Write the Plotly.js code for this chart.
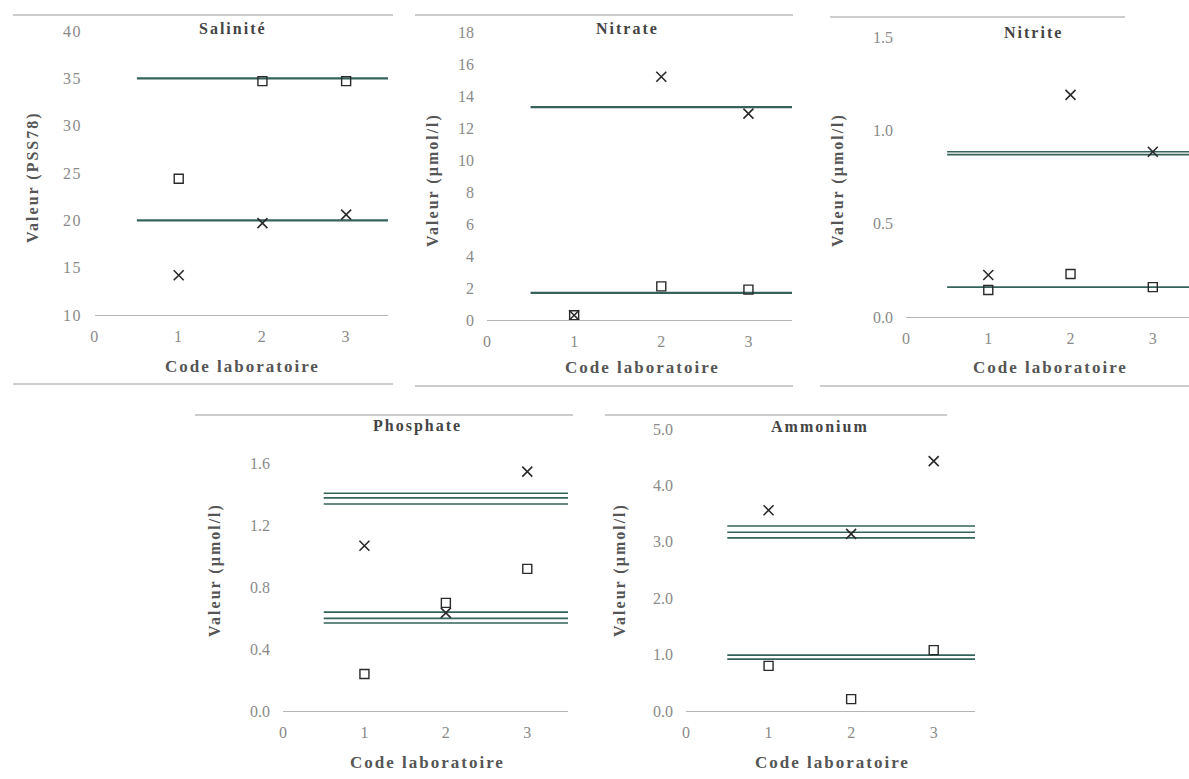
<!DOCTYPE html>
<html><head><meta charset="utf-8">
<script src="https://cdn.plot.ly/plotly-3.0.1.min.js"></script>
<style>html,body{margin:0;padding:0;background:#fff}#c{width:1189px;height:779px}
.xtick text,.ytick text{letter-spacing:1.5px;font-family:'Liberation Serif','DejaVu Serif',serif !important}
.annotation-text{letter-spacing:2px}
</style>
</head><body><div id="c"></div>
<script>
// ---- data ----
const labs = [1, 2, 3];
const panelTitles = ["Salinité", "Nitrate", "Nitrite", "Phosphate", "Ammonium"];
const yTitles = ["Valeur (PSS78)", "Valeur (µmol/l)", "Valeur (µmol/l)", "Valeur (µmol/l)", "Valeur (µmol/l)"];
const xTitle = "Code laboratoire";
const xTicks = [0, 1, 2, 3];

const salSquare = [24.4, 34.7, 34.7];
const salCross  = [14.2, 19.7, 20.6];
const salRef    = [35.0, 20.0];

const nitSquare = [0.3, 2.1, 1.9];
const nitCross  = [0.3, 15.2, 12.9];
const nitRef    = [13.3, 1.7];

const ntiSquare = [0.145, 0.23, 0.16];
const ntiCross  = [0.225, 1.19, 0.885];
const ntiRef    = [0.885, 0.87, 0.16];

const phoSquare = [0.24, 0.70, 0.92];
const phoCross  = [1.07, 0.635, 1.55];
const phoRef    = [1.41, 1.38, 1.34, 0.64, 0.60, 0.57];

const ammSquare = [0.80, 0.21, 1.08];
const ammCross  = [3.56, 3.14, 4.43];
const ammRef    = [3.28, 3.17, 3.07, 0.99, 0.92];

const refSpan = [0.5, 3.5];

const yTickVals = [
  [10, 15, 20, 25, 30, 35, 40],
  [0, 2, 4, 6, 8, 10, 12, 14, 16, 18],
  [0, 0.5, 1.0, 1.5],
  [0, 0.4, 0.8, 1.2, 1.6],
  [0, 1, 2, 3, 4, 5]
];
const yRanges = [[10, 40], [0, 18], [0, 1.5], [0, 1.8], [0, 5]];
const yFormats = ["d", "d", ".1f", ".1f", ".1f"];

// ---- layout geometry (pixels) ----
const W = 1189, H = 779;
const panels = [
  {x0: 95,  x1: 388,  xr: [0, 3.5],  yb: 315, yt: 31},
  {x0: 487, x1: 792,  xr: [0, 3.5],  yb: 320, yt: 32},
  {x0: 906, x1: 1189, xr: [0, 3.44], yb: 317, yt: 37},
  {x0: 283, x1: 568,  xr: [0, 3.5],  yb: 711, yt: 433},
  {x0: 686, x1: 975,  xr: [0, 3.5],  yb: 711, yt: 429}
];
const titlePos = [[233, 28], [627, 28], [1033, 33], [417, 426], [820, 426]];
const xTitlePos = [[242, 366], [642, 367], [1050, 367], [427, 762], [832, 762]];
const yTitlePos = [[33, 177], [433, 180], [838, 180], [215, 570], [620, 570]];

const squares = [salSquare, nitSquare, ntiSquare, phoSquare, ammSquare];
const crosses = [salCross, nitCross, ntiCross, phoCross, ammCross];
const refs = [salRef, nitRef, ntiRef, phoRef, ammRef];

const lineColor = "#35625a";
const markColor = "#2a2a2a";
const serif = "Liberation Serif";

const traces = [];
const layout = {
  width: W, height: H, margin: {l: 0, r: 0, t: 0, b: 0},
  font: {family: serif, size: 16, color: "#555"},
  paper_bgcolor: "#fff", plot_bgcolor: "rgba(0,0,0,0)",
  showlegend: false, annotations: [], shapes: []
};

panels.forEach((p, i) => {
  const n = i === 0 ? "" : String(i + 1);
  const xa = "x" + n, ya = "y" + n;
  const multi = refs[i].length > 2;
  refs[i].forEach(v => {
    traces.push({x: refSpan, y: [v, v], mode: "lines", xaxis: xa, yaxis: ya,
      line: {color: lineColor, width: multi ? 1.6 : 2.2}, hoverinfo: "skip"});
  });
  traces.push({x: labs, y: squares[i], mode: "markers", xaxis: xa, yaxis: ya,
    marker: {symbol: "square-open", size: 9, color: markColor, line: {width: 1.4, color: markColor}}});
  traces.push({x: labs, y: crosses[i], mode: "markers", xaxis: xa, yaxis: ya,
    marker: {symbol: "x-thin-open", size: 10, color: markColor, line: {width: 1.6, color: markColor}}});

  layout["xaxis" + n] = {
    domain: [p.x0 / W, p.x1 / W], range: p.xr, anchor: ya,
    tickvals: xTicks, ticktext: xTicks.map(String), showgrid: false, zeroline: false,
    showline: true, linecolor: "#b5b5b5", linewidth: 1, ticks: "", ticklabelstandoff: 7,
    tickfont: {family: serif, size: 16, color: "#8a8a8a"}, fixedrange: true
  };
  layout["yaxis" + n] = {
    domain: [1 - p.yb / H, 1 - p.yt / H], range: yRanges[i], anchor: xa,
    tickvals: yTickVals[i], tickformat: yFormats[i], showgrid: false, zeroline: false,
    showline: false, ticks: "", ticklabelstandoff: 12,
    tickfont: {family: serif, size: 16, color: "#8a8a8a"}, fixedrange: true
  };
  layout.annotations.push({text: "<b>" + panelTitles[i] + "</b>", xref: "paper", yref: "paper",
    x: titlePos[i][0] / W, y: 1 - titlePos[i][1] / H, showarrow: false,
    xanchor: "center", yanchor: "middle", font: {family: serif, size: 16, color: "#444"}});
  layout.annotations.push({text: "<b>" + xTitle + "</b>", xref: "paper", yref: "paper",
    x: xTitlePos[i][0] / W, y: 1 - xTitlePos[i][1] / H, showarrow: false,
    xanchor: "center", yanchor: "middle", font: {family: serif, size: 17, color: "#555"}});
  layout.annotations.push({text: "<b>" + yTitles[i] + "</b>", xref: "paper", yref: "paper",
    x: yTitlePos[i][0] / W, y: 1 - yTitlePos[i][1] / H, showarrow: false, textangle: -90,
    xanchor: "center", yanchor: "middle", font: {family: serif, size: 16, color: "#555"}});
});

// scanned panel frame lines
const frames = [
  [13, 393, 15], [13, 393, 384], [415, 793, 15], [415, 793, 386],
  [830, 1125, 17], [820, 1189, 386], [195, 573, 415], [605, 947, 415]
];
frames.forEach(f => layout.shapes.push({type: "line", xref: "paper", yref: "paper",
  x0: f[0] / W, x1: f[1] / W, y0: 1 - f[2] / H, y1: 1 - f[2] / H,
  line: {color: "#9a9a9a", width: 1}}));

Plotly.newPlot("c", traces, layout, {staticPlot: true});
</script></body></html>
